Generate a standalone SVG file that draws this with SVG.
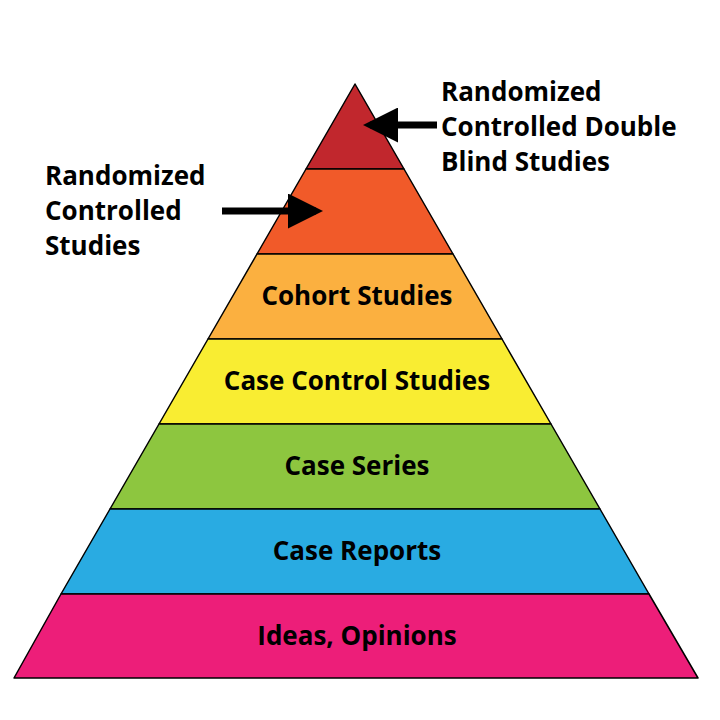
<svg xmlns="http://www.w3.org/2000/svg" width="720" height="720" viewBox="0 0 720 720">
<style>
.l{stroke:#000;stroke-width:1.5;stroke-linejoin:round}
text{font-family:"Open Sans","Liberation Sans",sans-serif;font-weight:bold;font-size:26px;fill:#000}
.c{text-anchor:middle}
</style>
<defs><marker id="ah" markerWidth="5" markerHeight="5" refX="4" refY="2.5" orient="auto"><path d="M0,0L5,2.5L0,5z" fill="#000"/></marker></defs>
<g id="layer1"><polygon class="l" fill="#C1272D" points="355,84 404,169 306,169"/></g>
<g id="layer2"><polygon class="l" fill="#F15A29" points="306,169 404,169 453,254 257,254"/></g>
<g id="layer3"><polygon class="l" fill="#FBB040" points="257,254 453,254 502,339 208,339"/><text class="c" x="357" y="305">Cohort Studies</text></g>
<g id="layer4"><polygon class="l" fill="#F9ED32" points="208,339 502,339 551,424 159,424"/><text class="c" x="357" y="390">Case Control Studies</text></g>
<g id="layer5"><polygon class="l" fill="#8DC63F" points="159,424 551,424 600,509 110,509"/><text class="c" x="357" y="475">Case Series</text></g>
<g id="layer6"><polygon class="l" fill="#29ABE2" points="110,509 600,509 649,594 61,594"/><text class="c" x="357" y="560">Case Reports</text></g>
<g id="layer7"><polygon class="l" fill="#ED1E79" points="61,594 649,594 698,678 14,678"/><text class="c" x="357" y="645">Ideas, Opinions</text></g>
<g id="connectors">
<line x1="437" y1="125" x2="370" y2="125" stroke="#000" stroke-width="7" marker-end="url(#ah)"/>
<line x1="222" y1="211" x2="316" y2="211" stroke="#000" stroke-width="7" marker-end="url(#ah)"/>
</g>
<g id="label-top"><text x="441" y="101">Randomized</text><text x="441" y="136">Controlled Double</text><text x="441" y="171">Blind Studies</text></g>
<g id="label-left"><text x="45" y="185">Randomized</text><text x="45" y="220">Controlled</text><text x="45" y="255">Studies</text></g>
</svg>
